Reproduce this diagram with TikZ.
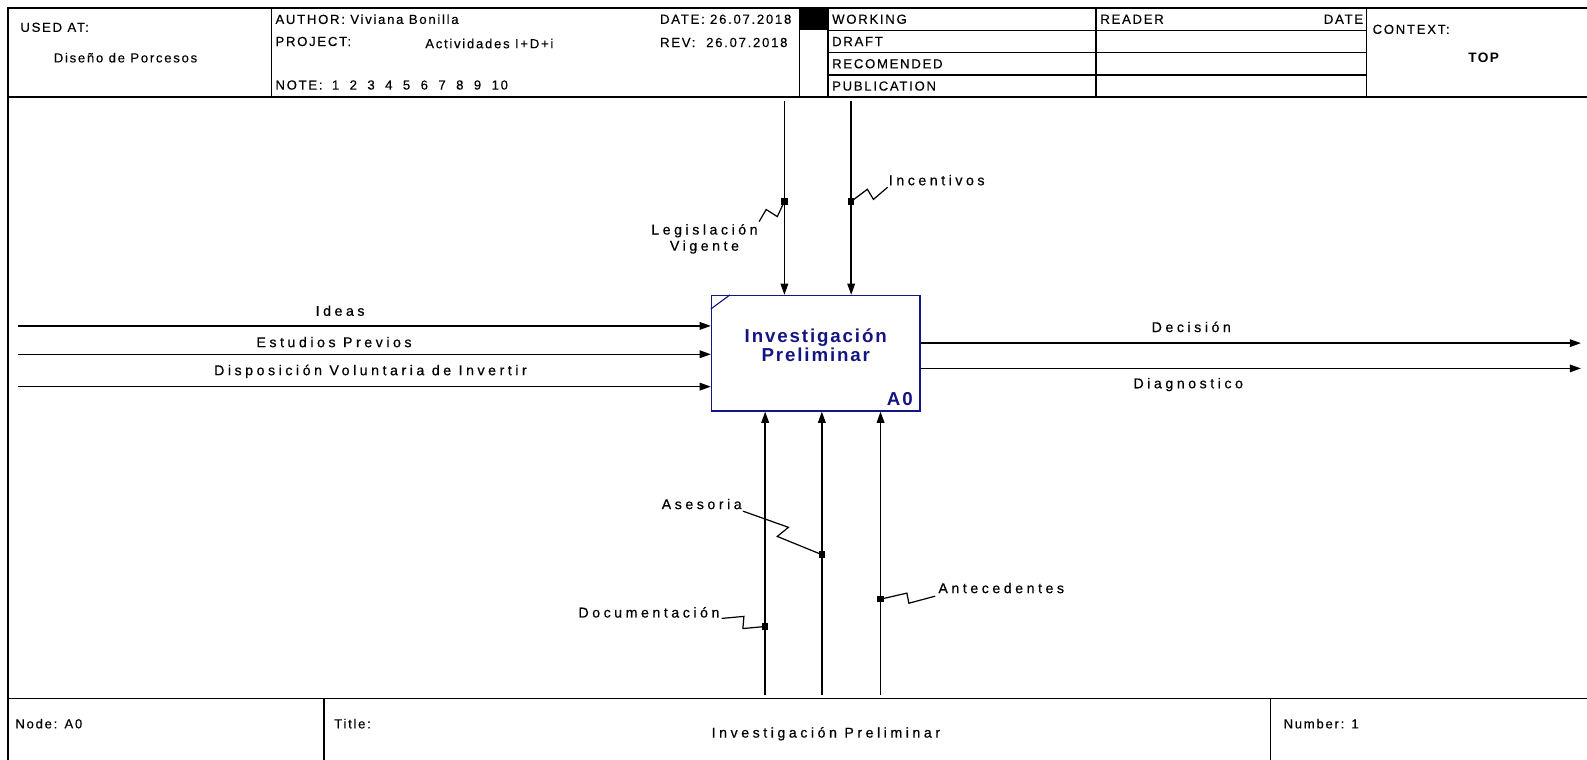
\documentclass[tikz,border=0pt]{standalone}
\usepackage{fontspec}
\setmainfont{Liberation Sans}
\newfontfamily\hdrfont[LetterSpace=13,FakeBold=0.3]{Liberation Sans}
\newfontfamily\lblfont[LetterSpace=25,FakeBold=0.5]{Liberation Sans}
\newfontfamily\ttlfont[LetterSpace=10]{Liberation Sans}
\usetikzlibrary{arrows.meta}
\definecolor{navy}{RGB}{20,20,130}
\tikzset{
  ln/.style={line width=1.3pt},
  frm/.style={line width=1.6pt},
  arr/.style={line width=1.4pt, -{Triangle[length=11pt,width=7.5pt]}},
  hdr/.style={inner sep=0pt, anchor=west, font={\hdrfont\fontsize{13}{15}\selectfont}},
  lbl/.style={inner sep=0pt, font={\lblfont\fontsize{14}{16}\selectfont}},
  ttl/.style={inner sep=0pt, text=navy, font={\ttlfont\bfseries\fontsize{18.5}{18}\selectfont}},
  dotm/.style={fill, rectangle, inner sep=0pt, minimum size=6.5pt},
  squig/.style={line width=1.2pt},
}
\begin{document}
\begin{tikzpicture}[x=1pt,y=-1pt]
\useasboundingbox (0,0) rectangle (1568,750);
\clip (0,0) rectangle (1568,750);
% frame
\draw[frm] (8,760) -- (8,8) -- (1580,8);
\draw[frm] (8,96) -- (1580,96);
\draw[frm] (8,690) -- (1580,690);
% header verticals
\foreach \xx in {268,790,818,1083,1350} \draw[ln] (\xx,8) -- (\xx,96);
\foreach \yy in {30,52,74} \draw[ln] (818,\yy) -- (1350,\yy);
\fill (790,8) rectangle (818,30);
% footer verticals
\draw[ln] (320,690) -- (320,760);
\draw[ln] (1255,690) -- (1255,760);
% header texts
\node[hdr] (usedat) at (20,27) {USED AT:};
\node[hdr, anchor=center] (usedv) at (124,57) {Diseño de Porcesos};
\node[hdr] (author) at (272,19) {AUTHOR: Viviana Bonilla};
\node[hdr] (project) at (272,41) {PROJECT:};
\node[hdr] (projv) at (420,43) {Actividades I+D+i};
\node[hdr] (note) at (272,84) {NOTE:\hspace{4pt} 1\hspace{5pt} 2\hspace{5pt} 3\hspace{5pt} 4\hspace{5pt} 5\hspace{5pt} 6\hspace{5pt} 7\hspace{5pt} 8\hspace{5pt} 9\hspace{5pt} 10};
\node[hdr] (date) at (652,19) {DATE: 26.07.2018};
\node[hdr] (rev) at (652,42) {REV:\ \ 26.07.2018};
\node[hdr] (working) at (822,19) {WORKING};
\node[hdr] (draft) at (822,41) {DRAFT};
\node[hdr] (recom) at (822,63) {RECOMENDED};
\node[hdr] (publ) at (822,85) {PUBLICATION};
\node[hdr] (reader) at (1087,19) {READER};
\node[hdr, anchor=east] (rdate) at (1347,19) {DATE};
\node[hdr] (context) at (1356,29) {CONTEXT:};
\node[hdr, anchor=center, font={\ttlfont\bfseries\fontsize{13.5}{15}\selectfont}] (top) at (1466,57) {TOP};
% footer texts
\node[hdr] (nodeA) at (15,715) {Node: A0};
\node[hdr] (titlelbl) at (330,715) {Title:};
\node[lbl] (titlev) at (816,725) {Investigación Preliminar};
\node[hdr] (number) at (1268,715) {Number: 1};
% activity box
\node[draw=navy, line width=1.4pt, minimum width=206pt, minimum height=114pt, inner sep=0pt] (box) at (806,349) {};
\draw[navy, line width=1.1pt] ([yshift=-14pt]box.north west) -- ([xshift=19pt]box.north west);
\node[ttl, align=center] (boxtitle) at (806,341) {Investigación\\Preliminar};
\node[ttl, anchor=east] (boxnum) at (902,394) {A0};
% inputs
\coordinate (i1) at (18,322);
\coordinate (i2) at (18,350);
\coordinate (i3) at (18,382);
\draw[arr] (i1) -- (i1 -| box.west);
\draw[arr] (i2) -- (i2 -| box.west);
\draw[arr] (i3) -- (i3 -| box.west);
\node[lbl] (li1) at (336,307) {Ideas};
\node[lbl] (li2) at (330,338) {Estudios Previos};
\node[lbl] (li3) at (366,367) {Disposición Voluntaria de Invertir};
% outputs
\coordinate (o1) at (1562,339);
\coordinate (o2) at (1562,364);
\draw[arr] (o1 -| box.east) -- (o1);
\draw[arr] (o2 -| box.east) -- (o2);
\node[lbl] (lo1) at (1177,323) {Decisión};
\node[lbl] (lo2) at (1174,380) {Diagnostico};
% controls
\coordinate (c1) at (775,100);
\coordinate (c2) at (841,100);
\draw[arr] (c1) -- (c1 |- box.north);
\draw[arr] (c2) -- (c2 |- box.north);
\node[dotm] (dc1) at (775,199) {};
\node[dotm] (dc2) at (841,199) {};
\draw[squig] (dc1.center) -- ++(-7,15) -- ++(-11,-7) -- ++(-7,12);
\draw[squig] (dc2.center) -- ++(16,-12) -- ++(6,10) -- ++(14,-12);
\node[lbl, align=center] (lc1) at (696,236) {Legislación\\Vigente};
\node[lbl, anchor=west] (lc2) at (878,178) {Incentivos};
% mechanisms
\coordinate (m1) at (756,687);
\coordinate (m2) at (812,687);
\coordinate (m3) at (870,687);
\draw[arr] (m1) -- (m1 |- box.south);
\draw[arr] (m2) -- (m2 |- box.south);
\draw[arr] (m3) -- (m3 |- box.south);
\node[dotm] (dm1) at (756,619) {};
\node[dotm] (dm2) at (812,548) {};
\node[dotm] (dm3) at (870,592) {};
\draw[squig] (dm1.center) -- ++(-22,2) -- ++(1,-12) -- ++(-22,2);
\draw[squig] (dm2.center) -- ++(-44,-18) -- ++(11,-9) -- ++(-45,-16);
\draw[squig] (dm3.center) -- ++(26,-6) -- ++(2,10) -- ++(26,-7);
\node[lbl, anchor=east] (lm1) at (711,605) {Documentación};
\node[lbl, anchor=east] (lm2) at (733,498) {Asesoria};
\node[lbl, anchor=west] (lm3) at (927,581) {Antecedentes};
\end{tikzpicture}
\end{document}
